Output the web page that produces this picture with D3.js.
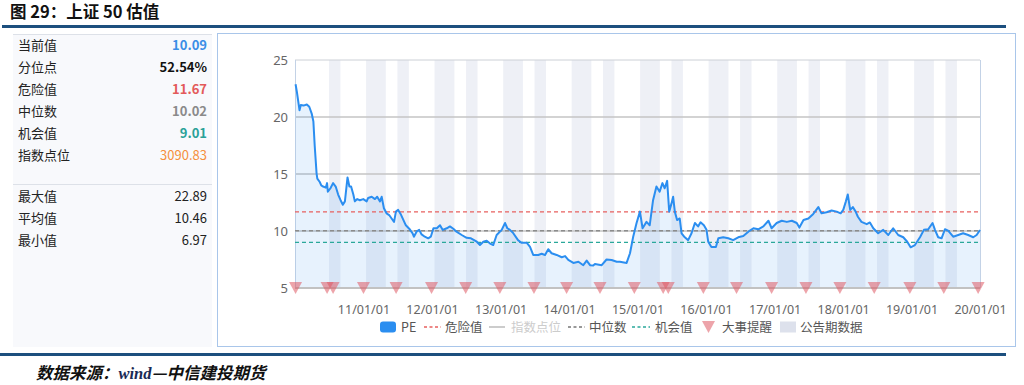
<!DOCTYPE html>
<html>
<head>
<meta charset="utf-8">
<script src="https://cdn.jsdelivr.net/npm/d3@7"></script>
<style>
  body { margin: 0; background: #fff; }
  svg text { font-family: "Noto Sans CJK SC", "Noto Sans", sans-serif; }
</style>
</head>
<body>
<div id="chart"></div>
<script>
// PE series (上证50)
var dates = [
  "2010-01-04","2010-01-11","2010-01-25","2010-02-01","2010-02-15","2010-03-05","2010-03-18","2010-03-31",
  "2010-04-09","2010-04-16","2010-04-26","2010-04-30","2010-05-13","2010-05-21","2010-05-31","2010-06-14",
  "2010-06-21","2010-06-25","2010-07-09","2010-07-23","2010-08-06","2010-08-19","2010-09-01","2010-09-13",
  "2010-09-24","2010-10-08","2010-10-18","2010-10-27","2010-11-08","2010-11-16","2010-11-29","2010-12-13",
  "2010-12-31","2011-01-18","2011-01-26","2011-02-14","2011-03-03","2011-03-15","2011-03-30","2011-04-08",
  "2011-04-20","2011-05-04","2011-05-18","2011-05-31","2011-06-13","2011-06-23","2011-07-05","2011-07-18",
  "2011-08-01","2011-08-15","2011-09-02","2011-09-20","2011-09-27","2011-10-11","2011-10-25","2011-11-07",
  "2011-11-24","2011-12-12","2011-12-26","2012-01-09","2012-01-27","2012-02-13","2012-02-27","2012-03-20",
  "2012-04-06","2012-04-24","2012-05-11","2012-06-08","2012-07-04","2012-07-27","2012-08-27","2012-09-13",
  "2012-10-01","2012-10-19","2012-11-06","2012-11-23","2012-12-11","2013-01-07","2013-01-25","2013-02-06",
  "2013-02-20","2013-03-08","2013-04-04","2013-04-22","2013-05-20","2013-06-07","2013-06-24","2013-07-21",
  "2013-08-08","2013-08-26","2013-09-12","2013-09-30","2013-10-27","2013-11-23","2013-12-11","2013-12-28",
  "2014-01-24","2014-02-20","2014-03-18","2014-04-05","2014-04-23","2014-05-10","2014-05-19","2014-06-24",
  "2014-07-20","2014-08-16","2014-09-12","2014-09-29","2014-11-04","2014-11-22","2014-12-09","2014-12-27",
  "2015-01-14","2015-01-28","2015-02-18","2015-03-07","2015-03-25","2015-04-12","2015-04-29","2015-05-14",
  "2015-05-26","2015-06-08","2015-06-19","2015-07-01","2015-07-10","2015-07-19","2015-07-31","2015-08-14",
  "2015-08-24","2015-09-10","2015-09-28","2015-10-16","2015-11-03","2015-11-20","2015-12-03","2015-12-21",
  "2016-01-04","2016-01-13","2016-01-30","2016-02-23","2016-03-07","2016-04-02","2016-04-29","2016-05-25",
  "2016-06-21","2016-07-18","2016-08-14","2016-09-10","2016-10-06","2016-11-02","2016-11-29","2016-12-16",
  "2017-01-12","2017-02-08","2017-03-07","2017-04-03","2017-04-29","2017-05-13","2017-06-04","2017-06-30",
  "2017-07-26","2017-08-22","2017-09-08","2017-10-05","2017-11-01","2017-11-28","2017-12-19","2018-01-02",
  "2018-01-16","2018-01-26","2018-02-08","2018-02-22","2018-03-09","2018-03-21","2018-04-09","2018-05-07",
  "2018-05-24","2018-06-11","2018-07-07","2018-08-03","2018-08-30","2018-09-25","2018-10-22","2018-11-18",
  "2018-12-09","2018-12-27","2019-01-19","2019-02-15","2019-03-08","2019-03-31","2019-04-23","2019-05-06",
  "2019-05-23","2019-06-10","2019-06-28","2019-07-15","2019-08-11","2019-09-07","2019-10-03","2019-10-30",
  "2019-11-26","2019-12-14","2020-01-01"
];
var pe = [
  22.87,22.2,20.6,21.05,21.0,21.1,20.9,20.3,
  19.6,17.5,15.06,14.6,14.3,14.0,13.9,13.8,
  14.2,13.45,13.75,14.2,13.9,13.2,12.7,12.3,
  12.6,14.7,13.9,13.9,13.2,12.6,12.8,12.7,
  12.8,12.6,12.9,13.0,12.8,13.0,12.6,13.0,
  12.0,11.55,11.4,11.1,10.8,11.7,11.85,11.5,
  11.0,10.5,10.2,9.8,9.5,9.94,10.1,9.7,
  9.5,9.36,9.5,10.24,10.24,10.5,10.1,10.24,
  10.4,10.2,9.94,9.65,9.4,9.36,9.06,8.77,
  9.06,9.15,8.9,8.77,9.65,10.1,10.7,10.24,
  10.1,9.85,9.2,8.97,8.97,8.6,7.9,7.9,
  8.0,7.9,8.4,8.05,7.9,7.7,7.8,7.46,
  7.2,7.3,7.0,7.4,7.0,6.97,7.1,7.0,
  7.5,7.46,7.3,7.3,7.2,8.05,9.5,10.7,
  11.7,10.24,10.8,10.5,12.7,13.9,13.45,14.2,
  13.75,14.4,11.7,12.4,13.0,11.7,10.96,11.1,
  9.8,9.45,9.2,9.8,10.7,10.4,10.76,10.5,
  10.1,9.06,8.6,8.6,9.36,9.45,9.36,9.2,
  9.45,9.56,9.94,10.24,10.15,10.4,10.9,10.24,
  10.7,10.9,10.8,10.9,10.7,10.3,10.96,11.1,
  11.5,12.1,11.55,11.65,11.8,11.7,11.55,11.85,
  12.6,13.2,11.85,12.1,11.7,11.25,10.8,10.6,
  10.75,10.24,9.8,10.1,9.65,10.24,9.65,9.45,
  9.06,8.57,8.77,9.45,10.1,10.15,10.7,10.1,
  9.45,9.36,10.15,10.03,9.5,9.65,9.8,9.65,
  9.45,9.65,10.09
];

// 大事提醒
var eventDates = [
  "2010-01-04","2010-06-21","2010-07-23","2011-01-01","2011-06-24","2011-12-30","2012-06-29",
  "2012-12-28","2013-06-28","2013-12-19","2014-06-15","2014-12-15","2015-05-18","2015-06-14",
  "2015-12-18","2016-06-12","2016-12-16","2017-06-17","2017-12-15","2018-06-16","2018-12-23",
  "2019-06-22","2019-12-22"
];

// 公告期数据
var bandStart = [
  "2010-07-01","2011-01-15","2011-07-01","2012-01-15","2012-07-01","2013-01-15","2013-07-01",
  "2014-01-15","2014-07-01","2015-01-15","2015-07-01","2016-01-15","2016-07-01","2017-01-15",
  "2017-07-01","2018-01-15","2018-07-01","2019-01-15","2019-07-01"
];
var bandEnd = [
  "2010-08-31","2011-04-30","2011-08-31","2012-04-30","2012-08-31","2013-04-30","2013-08-31",
  "2014-04-30","2014-08-31","2015-04-30","2015-08-31","2016-04-30","2016-08-31","2017-04-30",
  "2017-08-31","2018-04-30","2018-08-31","2019-04-30","2019-08-31"
];

var xTicks = ["2011-01-01","2012-01-01","2013-01-01","2014-01-01","2015-01-01",
              "2016-01-01","2017-01-01","2018-01-01","2019-01-01","2020-01-01"];
var yTicks = [5, 10, 15, 20, 25];

var dangerValue = 11.67, medianValue = 10.02, chanceValue = 9.01;

var infoLabels = ["当前值","分位点","危险值","中位数","机会值","指数点位"];
var infoValues = ["10.09","52.54%","11.67","10.02","9.01","3090.83"];
var statLabels = ["最大值","平均值","最小值"];
var statValues = ["22.89","10.46","6.97"];

var legendNames = ["PE","危险值","指数点位","中位数","机会值","大事提醒","公告期数据"];

var parse = d3.timeParse("%Y-%m-%d");

var svg = d3.select("#chart")
  .append("svg")
  .attr("width", 1024)
  .attr("height", 385);

// title
svg.append("text")
  .attr("x", 10).attr("y", 18)
  .attr("font-size", 16.5).attr("font-weight", "bold").attr("fill", "#111")
  .text("图 29：上证 50 估值");
svg.append("rect").attr("x", 2).attr("y", 25).attr("width", 1004).attr("height", 3).attr("fill", "#1c4f7e");

// left info panel
svg.append("rect").attr("x", 13).attr("y", 34).attr("width", 199).attr("height", 313).attr("fill", "#f8f9fc");
svg.append("line").attr("x1", 13).attr("x2", 212).attr("y1", 34.5).attr("y2", 34.5).attr("stroke", "#dde1e8");
svg.append("line").attr("x1", 13).attr("x2", 212).attr("y1", 184.5).attr("y2", 184.5).attr("stroke", "#dde1e8");

var infoColors = ["#3a8ee6", "#111", "#e35a5a", "#8a8a8a", "#2aa198", "#f5903c"];
var infoBold = [true, true, true, true, true, false];

infoLabels.forEach(function (d, i) {
  var yy = 50 + i * 22;
  svg.append("text").attr("x", 18).attr("y", yy).attr("font-size", 13).attr("fill", "#222").text(d);
  svg.append("text").attr("x", 207).attr("y", yy).attr("font-size", 13)
    .attr("text-anchor", "end")
    .attr("font-weight", infoBold[i] ? "bold" : "normal")
    .attr("fill", infoColors[i]).text(infoValues[i]);
});
statLabels.forEach(function (d, i) {
  var yy = 200.5 + i * 22;
  svg.append("text").attr("x", 18).attr("y", yy).attr("font-size", 13).attr("fill", "#222").text(d);
  svg.append("text").attr("x", 207).attr("y", yy).attr("font-size", 13)
    .attr("text-anchor", "end").attr("fill", "#222").text(statValues[i]);
});

// chart box
svg.append("rect").attr("x", 217.5).attr("y", 33.5).attr("width", 798).attr("height", 313)
  .attr("fill", "#fff").attr("stroke", "#a9c6ea");

// scales
var x = d3.scaleTime()
  .domain([parse("2010-01-01"), parse("2020-01-01")])
  .range([295, 980]);
var y = d3.scaleLinear()
  .domain([5, 25])
  .range([288, 60]);

var g = svg.append("g");

// announcement bands
g.selectAll(".band")
  .data(bandStart)
  .enter()
  .append("rect")
  .attr("x", function (d) { return x(parse(d)); })
  .attr("y", y(25))
  .attr("width", function (d, i) { return x(parse(bandEnd[i])) - x(parse(d)); })
  .attr("height", y(5) - y(25))
  .attr("fill", "#eef0f6");

// grid
g.selectAll(".grid")
  .data([10, 15, 20])
  .enter()
  .append("line")
  .attr("x1", 295).attr("x2", 980)
  .attr("y1", function (d) { return y(d); })
  .attr("y2", function (d) { return y(d); })
  .attr("stroke", "#c4c4c4").attr("stroke-width", 1.5);
g.append("line").attr("x1", 295).attr("x2", 980).attr("y1", y(25)).attr("y2", y(25))
  .attr("stroke", "#ccd0d6");
g.append("line").attr("x1", 295.5).attr("x2", 295.5).attr("y1", y(25)).attr("y2", y(5))
  .attr("stroke", "#c3d2e6");
g.append("line").attr("x1", 980.5).attr("x2", 980.5).attr("y1", y(25)).attr("y2", y(5))
  .attr("stroke", "#c3d2e6");

var series = dates.map(function (d, i) { return { date: parse(d), value: pe[i] }; });

// area + line
var area = d3.area()
  .x(function (d) { return x(d.date); })
  .y0(y(5))
  .y1(function (d) { return y(d.value); });
var line = d3.line()
  .x(function (d) { return x(d.date); })
  .y(function (d) { return y(d.value); });

g.append("path").datum(series).attr("d", area)
  .attr("fill", "rgba(40,140,240,0.11)");

// reference lines
var refs = [
  { v: dangerValue, c: "#e8605f" },
  { v: medianValue, c: "#8c8c8c" },
  { v: chanceValue, c: "#2aa89a" }
];
g.selectAll(".ref")
  .data(refs)
  .enter()
  .append("line")
  .attr("x1", 295).attr("x2", 980)
  .attr("y1", function (d) { return y(d.v); })
  .attr("y2", function (d) { return y(d.v); })
  .attr("stroke", function (d) { return d.c; })
  .attr("stroke-width", 1.3)
  .attr("stroke-dasharray", "4,3");

g.append("path").datum(series).attr("d", line)
  .attr("fill", "none").attr("stroke", "#2b8ef0").attr("stroke-width", 2)
  .attr("stroke-linejoin", "round");

// bottom axis line
g.append("line").attr("x1", 295).attr("x2", 980).attr("y1", y(5)).attr("y2", y(5))
  .attr("stroke", "#c2c2c2").attr("stroke-width", 2);

// event triangles
g.selectAll(".evt")
  .data(eventDates)
  .enter()
  .append("path")
  .attr("d", function (d) {
    var cx = x(parse(d)), cy = y(5);
    return "M" + (cx - 6.5) + "," + (cy - 6) + "L" + (cx + 6.5) + "," + (cy - 6) + "L" + cx + "," + (cy + 6) + "Z";
  })
  .attr("fill", "rgba(222,90,100,0.55)");

// axes
var xAxis = g.append("g")
  .attr("transform", "translate(0," + 302 + ")")
  .call(d3.axisBottom(x)
    .tickValues(xTicks.map(parse))
    .tickFormat(d3.timeFormat("%y/%m/%d"))
    .tickSize(0));
xAxis.select(".domain").remove();
xAxis.selectAll("text").attr("font-size", 12.5).attr("fill", "#666")
  .style("font-family", "'Noto Sans', sans-serif");

var yAxis = g.append("g")
  .attr("transform", "translate(288,0)")
  .call(d3.axisLeft(y).tickValues(yTicks).tickSize(0).tickPadding(0));
yAxis.select(".domain").remove();
yAxis.selectAll("text").attr("font-size", 13).attr("fill", "#666")
  .style("font-family", "'Noto Sans', sans-serif");

// legend
var ly = 327;
var lg = svg.append("g").attr("font-size", 12.5);
lg.append("rect").attr("x", 380).attr("y", ly - 5.5).attr("width", 16).attr("height", 11).attr("rx", 3)
  .attr("fill", "#2b8ef0");
lg.append("text").attr("x", 401).attr("y", ly + 4.5).attr("fill", "#555").text(legendNames[0]);
lg.append("line").attr("x1", 424).attr("x2", 441).attr("y1", ly).attr("y2", ly)
  .attr("stroke", "#e8605f").attr("stroke-width", 1.5).attr("stroke-dasharray", "3,2.5");
lg.append("text").attr("x", 445).attr("y", ly + 4.5).attr("fill", "#555").text(legendNames[1]);
lg.append("line").attr("x1", 489).attr("x2", 505).attr("y1", ly).attr("y2", ly)
  .attr("stroke", "#cccccc").attr("stroke-width", 2);
lg.append("text").attr("x", 511).attr("y", ly + 4.5).attr("fill", "#cccccc").text(legendNames[2]);
lg.append("line").attr("x1", 568).attr("x2", 585).attr("y1", ly).attr("y2", ly)
  .attr("stroke", "#777").attr("stroke-width", 1.5).attr("stroke-dasharray", "3,2.5");
lg.append("text").attr("x", 589).attr("y", ly + 4.5).attr("fill", "#555").text(legendNames[3]);
lg.append("line").attr("x1", 632).attr("x2", 650).attr("y1", ly).attr("y2", ly)
  .attr("stroke", "#2aa89a").attr("stroke-width", 1.5).attr("stroke-dasharray", "3,2.5");
lg.append("text").attr("x", 655).attr("y", ly + 4.5).attr("fill", "#555").text(legendNames[4]);
lg.append("path").attr("d", "M702," + (ly - 6) + "L715," + (ly - 6) + "L708.5," + (ly + 6) + "Z")
  .attr("fill", "rgba(222,90,100,0.55)");
lg.append("text").attr("x", 722).attr("y", ly + 4.5).attr("fill", "#555").text(legendNames[5]);
lg.append("rect").attr("x", 780).attr("y", ly - 5.5).attr("width", 16).attr("height", 11)
  .attr("fill", "#dde1ec");
lg.append("text").attr("x", 800).attr("y", ly + 4.5).attr("fill", "#555").text(legendNames[6]);

// footer
svg.append("rect").attr("x", 0).attr("y", 353).attr("width", 1006).attr("height", 3).attr("fill", "#1c4f7e");
var foot = svg.append("text")
  .attr("x", 36).attr("y", 379)
  .attr("font-size", 16.5).attr("font-weight", "bold").attr("font-style", "italic").attr("fill", "#111");
foot.append("tspan").text("数据来源：");
foot.append("tspan").style("font-family", "'Liberation Serif', serif").attr("fill", "#1a2a55").text("wind");
foot.append("tspan").text("—中信建投期货");
</script>
</body>
</html>
